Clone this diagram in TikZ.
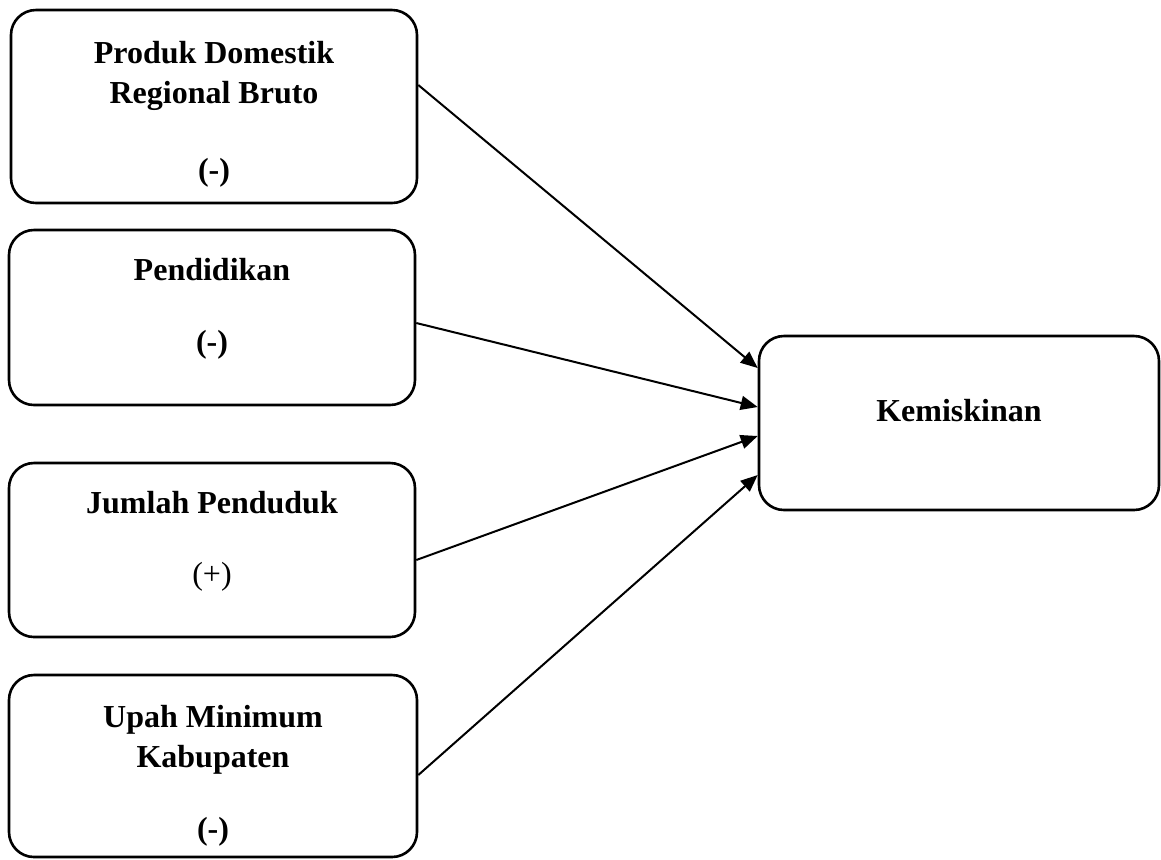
\documentclass[tikz,border=0pt]{standalone}
\usepackage{fontspec}
\setmainfont{Liberation Serif}
\usetikzlibrary{arrows.meta}

\begin{document}
\begin{tikzpicture}[x=0.5pt, y=-0.5pt,
		box/.style={draw, line width=1.3pt, rounded corners=12.5pt, align=center,
			font=\fontsize{16}{20}\selectfont\bfseries, inner sep=0pt},
		link/.style={line width=1pt, -{Triangle[length=8.5pt, width=7pt]}}]
		\useasboundingbox (0,0) rectangle (1161,859);

		\node[box, minimum width=203pt, minimum height=96.5pt, text height=74.3pt, text depth=0pt] (pdrb) at (214,106.5)
			{Produk Domestik\\Regional Bruto\\[18.5pt](-)};
		\node[box, minimum width=203pt, minimum height=87.5pt, text depth=12.4pt] (pend) at (212,317.5)
			{Pendidikan\\[16pt](-)};
		\node[box, minimum width=203pt, minimum height=87pt, text depth=12.6pt] (jml) at (212,550)
			{Jumlah Penduduk\\[15.5pt]\mdseries(+)};
		\node[box, minimum width=204pt, minimum height=91pt, text height=73.8pt, text depth=0pt] (ump) at (213,766)
			{Upah Minimum\\Kabupaten\\[16pt](-)};
		\node[box, minimum width=200pt, minimum height=87pt, text depth=13pt] (kem) at (959,423)
			{Kemiskinan};

		\draw[link] ([yshift=10.75pt]pdrb.east) -- ([yshift=27.5pt]kem.west);
		\draw[link] ([yshift=-2.75pt]pend.east) -- ([yshift=8pt]kem.west);
		\draw[link] ([yshift=-5pt]jml.east) -- ([yshift=-6.5pt]kem.west);
		\draw[link] ([yshift=-4.5pt]ump.east) -- ([yshift=-26pt]kem.west);
	\end{tikzpicture}
\end{document}
